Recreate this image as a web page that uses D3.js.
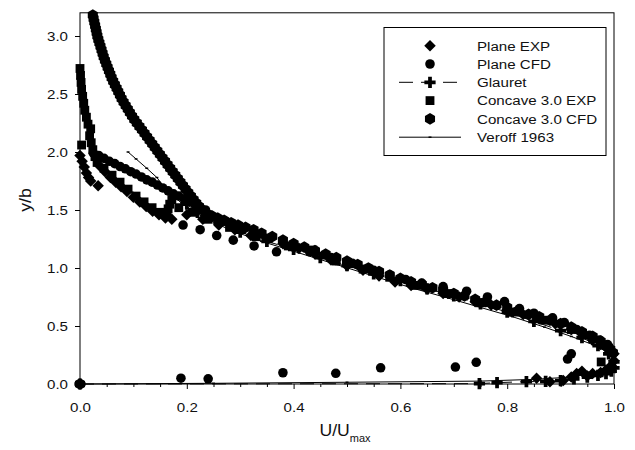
<!DOCTYPE html>
<html>
<head>
<meta charset="utf-8">
<script src="https://cdn.jsdelivr.net/npm/d3@7"></script>
<style>
  body { margin: 0; background: #fff; }
  svg { display: block; }
</style>
</head>
<body>
<svg id="chart" width="635" height="450"></svg>
<script>
// ---- axis ticks ----
const xTicks = [0.0, 0.2, 0.4, 0.6, 0.8, 1.0];
const xMinorTicks = [0.05, 0.1, 0.15, 0.25, 0.3, 0.35, 0.45, 0.5, 0.55, 0.65, 0.7, 0.75, 0.85, 0.9, 0.95];
const yTicks = [0.0, 0.5, 1.0, 1.5, 2.0, 2.5, 3.0];

// ---- series: [U/Umax, y/b] ----
const planeExp = [
  [0.000,1.97],[0.004,1.92],[0.008,1.87],[0.012,1.82],[0.016,1.78],[0.020,1.75],[0.034,1.71],
  [0.037,1.88],[0.047,1.83],[0.057,1.78],[0.067,1.74],[0.077,1.70],[0.088,1.66],[0.100,1.61],
  [0.112,1.57],[0.124,1.53],[0.136,1.49],[0.148,1.46],[0.160,1.43],[0.172,1.42],
  [0.200,1.46],[0.230,1.42],[0.260,1.37],[0.290,1.33],[0.320,1.28],[0.350,1.25],[0.380,1.21],
  [0.410,1.17],[0.440,1.12],[0.470,1.07],[0.500,1.02],[0.530,0.98],[0.560,0.93],[0.590,0.88],
  [0.620,0.85],[0.650,0.82],[0.680,0.78],[0.710,0.75],[0.740,0.71],[0.770,0.68],[0.800,0.64],
  [0.830,0.60],[0.860,0.56],[0.890,0.52],[0.920,0.47],[0.940,0.43],[0.960,0.38],[0.975,0.34],
  [0.990,0.30],[1.000,0.26],
  [1.000,0.20],[0.995,0.16],[0.985,0.12],[0.975,0.10],[0.960,0.09],[0.950,0.07],[0.940,0.11],
  [0.930,0.09],[0.920,0.06],[0.905,0.03],[0.880,0.02],[0.855,0.05]
];

const planeCfd = [
  [0.025,1.99],[0.035,1.97],[0.045,1.945],[0.055,1.92],[0.065,1.90],[0.075,1.875],[0.085,1.855],
  [0.095,1.83],[0.105,1.81],[0.115,1.785],[0.125,1.76],[0.135,1.74],[0.145,1.715],[0.155,1.69],
  [0.165,1.665],[0.175,1.64],[0.185,1.62],[0.195,1.595],[0.205,1.57],[0.215,1.55],[0.225,1.525],
  [0.235,1.50],
  [0.193,1.37],[0.225,1.33],[0.256,1.28],[0.287,1.24],[0.326,1.19],[0.368,1.14],
  [0.400,1.18],[0.430,1.14],[0.470,1.09],[0.510,1.04],[0.550,0.98],[0.580,0.94],[0.610,0.90],
  [0.640,0.87],
  [0.680,0.84],[0.724,0.80],[0.763,0.75],[0.795,0.71],[0.823,0.65],[0.850,0.61],[0.885,0.57],
  [0.907,0.53],[0.930,0.47],[0.954,0.42],[0.973,0.38],[0.988,0.34],[0.997,0.27],
  [0.920,0.26],[0.913,0.215],[0.742,0.187],[0.703,0.146],[0.563,0.14],[0.479,0.092],
  [0.380,0.097],[0.240,0.045],[0.189,0.05],[0.000,0.000]
];

const glauret = [
  [0.000,0.000],[0.748,0.003],[0.781,0.012],[0.836,0.020],[0.872,0.022],[0.900,0.030],
  [0.925,0.045],[0.950,0.060],[0.970,0.075],[0.985,0.090],[0.995,0.110],[1.000,0.140],
  [1.000,0.190],[0.990,0.260],[0.970,0.330],[0.940,0.400],[0.900,0.460],[0.850,0.540],
  [0.800,0.620],[0.750,0.690],[0.700,0.760],[0.650,0.820],[0.600,0.890],[0.550,0.950],
  [0.500,1.020],[0.450,1.090],[0.400,1.160],[0.350,1.230],[0.300,1.310],[0.260,1.390],
  [0.220,1.480],[0.200,1.550]
];

const concaveExp = [
  [0.000,2.72],[0.001,2.66],[0.002,2.60],[0.003,2.54],[0.005,2.48],[0.007,2.42],[0.009,2.36],
  [0.012,2.30],[0.015,2.24],[0.020,2.20],[0.018,2.14],[0.021,2.08],[0.003,2.06],[0.024,2.02],
  [0.028,1.96],[0.032,1.91],[0.045,1.86],[0.060,1.80],[0.075,1.74],[0.090,1.68],[0.105,1.62],
  [0.120,1.57],[0.135,1.52],[0.150,1.48],[0.163,1.46],[0.165,1.51],[0.168,1.55],[0.172,1.59],
  [0.185,1.52],[0.210,1.48],[0.240,1.42],
  [0.280,1.35],[0.330,1.27],[0.390,1.19],[0.436,1.155],[0.480,1.06],[0.530,0.99],[0.580,0.92],
  [0.630,0.85],[0.690,0.78],[0.750,0.70],[0.810,0.62],[0.870,0.55],[0.920,0.47],[0.960,0.39],
  [0.990,0.31],[0.976,0.19]
];

const concaveCfd = [
  [0.024,3.18],[0.0254,3.15],[0.0268,3.12],[0.0283,3.09],[0.0297,3.06],[0.0311,3.03],[0.0325,3.00],
  [0.0343,2.97],[0.0363,2.94],[0.0383,2.91],[0.0403,2.88],[0.0423,2.85],[0.0443,2.82],[0.0467,2.79],
  [0.0492,2.76],[0.0517,2.73],[0.0542,2.70],[0.0567,2.67],[0.0592,2.64],[0.0621,2.61],[0.0653,2.58],
  [0.0685,2.55],[0.0716,2.52],[0.0748,2.49],[0.0779,2.46],[0.0816,2.43],[0.0855,2.40],[0.0895,2.37],
  [0.0934,2.34],[0.0974,2.31],[0.1016,2.28],[0.1064,2.25],[0.1112,2.22],[0.1160,2.19],[0.1208,2.16],
  [0.1256,2.13],[0.1304,2.10],[0.1352,2.07],[0.1400,2.04],[0.1448,2.01],[0.1496,1.98],[0.1544,1.95],
  [0.1592,1.92],[0.1640,1.89],[0.1688,1.86],[0.1736,1.83],[0.1784,1.80],[0.1832,1.77],[0.1880,1.74],
  [0.1928,1.71],[0.1977,1.68],[0.2027,1.65],[0.2077,1.62],[0.2127,1.59],[0.2177,1.56],[0.2227,1.53],
  [0.2290,1.50],[0.2367,1.47],[0.247,1.45],[0.258,1.43],[0.270,1.41],[0.283,1.39],[0.296,1.37],
  [0.310,1.35],[0.325,1.33],
  [0.340,1.30],[0.360,1.27],[0.380,1.24],[0.400,1.21],[0.420,1.18],[0.440,1.15],[0.460,1.12],
  [0.480,1.09],[0.500,1.06],[0.520,1.03],[0.540,1.00],[0.560,0.97],[0.580,0.94],[0.600,0.91],
  [0.620,0.88],[0.640,0.86],[0.660,0.83],[0.680,0.81],[0.700,0.78],[0.720,0.76],[0.740,0.73],
  [0.760,0.71],[0.780,0.68],[0.800,0.66],[0.820,0.63],[0.840,0.60],[0.860,0.58],[0.880,0.55],
  [0.900,0.52],[0.920,0.49],[0.940,0.45],[0.960,0.41],[0.975,0.37],[0.985,0.33],[0.993,0.30],
  [0.998,0.27],
  [0.000,0.000]
];

const veroff = [
  [0.000,0.000],[0.250,0.006],[0.500,0.015],[0.750,0.025],[0.850,0.040],[0.920,0.060],
  [0.970,0.100],[0.995,0.150],[1.000,0.200],[0.990,0.270],[0.960,0.340],[0.920,0.410],
  [0.870,0.490],[0.810,0.580],[0.750,0.660],[0.690,0.740],[0.620,0.830],[0.550,0.930],
  [0.480,1.030],[0.410,1.130],[0.340,1.230],[0.280,1.330],[0.230,1.440],[0.190,1.560],
  [0.160,1.680],[0.144,1.780],[0.125,1.860],[0.105,1.940],[0.090,2.000]
];

const legendNames = ["Plane EXP", "Plane CFD", "Glauret", "Concave 3.0 EXP", "Concave 3.0 CFD", "Veroff 1963"];

// ---- layout ----
const svg = d3.select("#chart");
const W = 635, H = 450;
const plot = { left: 80, right: 614, top: 12.8, bottom: 384 };
const FONT = "'Liberation Sans', Arial, Helvetica, sans-serif";
const STRETCH = 1.12;

svg.append("rect").attr("width", W).attr("height", H).attr("fill", "#fff");

const x = d3.scaleLinear().domain([0, 1]).range([plot.left, plot.right]);
const y = d3.scaleLinear().domain([0, 3.2]).range([plot.bottom, plot.top]);

// ---- marker shapes ----
const diamondType = {
  draw(ctx, size) {
    const r = Math.sqrt(size / 2);
    ctx.moveTo(0, -r); ctx.lineTo(r, 0); ctx.lineTo(0, r); ctx.lineTo(-r, 0); ctx.closePath();
  }
};
const hexagonType = {
  draw(ctx, size) {
    const r = Math.sqrt(size / (1.5 * Math.sqrt(3)));
    for (let i = 0; i < 6; i++) {
      const a = Math.PI / 3 * i - Math.PI / 2;
      const px = r * Math.cos(a), py = r * Math.sin(a);
      if (i === 0) ctx.moveTo(px, py); else ctx.lineTo(px, py);
    }
    ctx.closePath();
  }
};
const dashType = {
  draw(ctx, size) {
    const w = Math.sqrt(size) * 1.2, h = Math.sqrt(size) * 0.6;
    ctx.rect(-w / 2, -h / 2, w, h);
  }
};

const sym = {
  planeExp: d3.symbol().type(diamondType).size(66),
  planeCfd: d3.symbol().type(d3.symbolCircle).size(72),
  glauret: d3.symbol().type(d3.symbolCross).size(70),
  concaveExp: d3.symbol().type(d3.symbolSquare).size(78),
  concaveCfd: d3.symbol().type(hexagonType).size(88),
  veroff: d3.symbol().type(dashType).size(6)
};

// ---- frame ----
svg.append("rect")
  .attr("x", plot.left).attr("y", plot.top)
  .attr("width", plot.right - plot.left).attr("height", plot.bottom - plot.top)
  .attr("fill", "none").attr("stroke", "#000").attr("stroke-width", 1);

// ---- axes ----
const xAxis = svg.append("g")
  .attr("transform", `translate(0,${plot.bottom})`)
  .call(d3.axisBottom(x).tickValues(xTicks).tickSize(5).tickSizeOuter(0).tickFormat(d3.format(".1f")));
const xMinor = svg.append("g")
  .attr("transform", `translate(0,${plot.bottom})`)
  .call(d3.axisBottom(x).tickValues(xMinorTicks).tickSize(3).tickSizeOuter(0).tickFormat(""));
const yAxis = svg.append("g")
  .attr("transform", `translate(${plot.left},0)`)
  .call(d3.axisLeft(y).tickValues(yTicks).tickSize(5).tickSizeOuter(0).tickFormat(d3.format(".1f")));

[xAxis, xMinor, yAxis].forEach(g => {
  g.select(".domain").remove();
  g.selectAll("line").attr("stroke", "#000");
  g.attr("font-family", FONT).attr("font-size", 13.5);
});
xAxis.selectAll("text")
  .attr("x", null).attr("y", null).attr("dy", null)
  .attr("fill", "#111").attr("text-anchor", "middle")
  .attr("transform", `translate(0,27.5) scale(${STRETCH},1)`);
yAxis.selectAll("text")
  .attr("x", null).attr("y", null).attr("dy", null)
  .attr("fill", "#111").attr("text-anchor", "end")
  .attr("transform", `translate(-12,4.8) scale(${STRETCH},1)`);

// ---- axis titles ----
svg.append("text")
  .attr("font-family", FONT).attr("font-size", 16).attr("fill", "#111")
  .attr("text-anchor", "middle")
  .attr("transform", `translate(31,200) rotate(-90) scale(1.1,1)`)
  .text("y/b");

const xt = svg.append("text")
  .attr("font-family", FONT).attr("font-size", 16).attr("fill", "#111")
  .attr("text-anchor", "middle")
  .attr("transform", `translate(345,436) scale(1.1,1)`);
xt.append("tspan").text("U/U");
xt.append("tspan").attr("font-size", 10).attr("dy", 6).text("max");

// ---- lines ----
const line = d3.line().x(d => x(d[0])).y(d => y(d[1]));
const lines = svg.append("g");
lines.append("path").datum(veroff).attr("d", line)
  .attr("fill", "none").attr("stroke", "#000").attr("stroke-width", 1);
lines.append("path").datum(glauret).attr("d", line)
  .attr("fill", "none").attr("stroke", "#000").attr("stroke-width", 1)
  .attr("stroke-dasharray", "14,8");

// ---- markers ----
function drawMarkers(data, gen) {
  svg.append("g").selectAll("path").data(data).join("path")
    .attr("transform", d => `translate(${x(d[0])},${y(d[1])})`)
    .attr("d", gen())
    .attr("fill", "#000");
}
drawMarkers(veroff, sym.veroff);
drawMarkers(glauret, sym.glauret);
drawMarkers(concaveExp, sym.concaveExp);
drawMarkers(planeExp, sym.planeExp);
drawMarkers(concaveCfd, sym.concaveCfd);
drawMarkers(planeCfd, sym.planeCfd);

// ---- legend ----
const lg = svg.append("g");
lg.append("rect").attr("x", 384).attr("y", 27.5).attr("width", 222).attr("height", 128)
  .attr("fill", "#fff").attr("stroke", "#000").attr("stroke-width", 1);

const legendSyms = [sym.planeExp, sym.planeCfd, sym.glauret, sym.concaveExp, sym.concaveCfd, sym.veroff];
legendNames.forEach((name, i) => {
  const cy = 45.7 + i * 18.3;
  if (i === 2) {
    lg.append("line").attr("x1", 399).attr("x2", 457).attr("y1", cy).attr("y2", cy)
      .attr("stroke", "#000").attr("stroke-dasharray", "14,8");
  }
  if (i === 5) {
    lg.append("line").attr("x1", 399).attr("x2", 461).attr("y1", cy).attr("y2", cy)
      .attr("stroke", "#000");
  }
  lg.append("path").attr("transform", `translate(430,${cy})`).attr("d", legendSyms[i]()).attr("fill", "#000");
  lg.append("text")
    .attr("font-family", FONT).attr("font-size", 13.5).attr("fill", "#111")
    .attr("transform", `translate(477,${cy + 4.8}) scale(${STRETCH},1)`)
    .text(name);
});
</script>
</body>
</html>
